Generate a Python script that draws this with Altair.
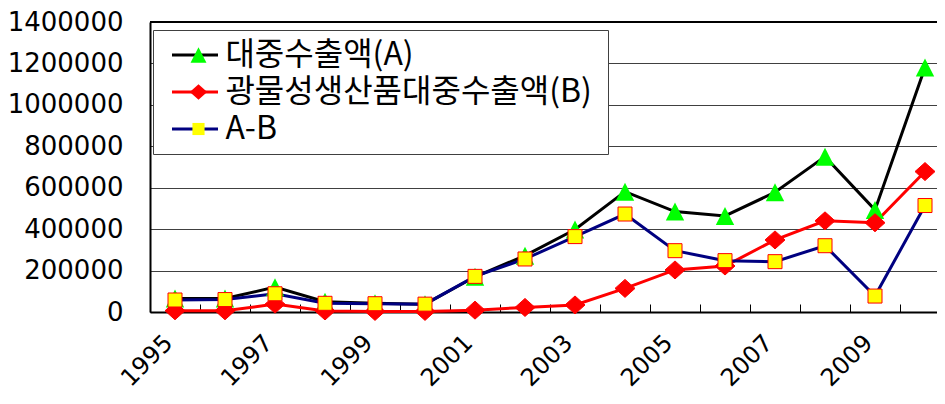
import altair as alt
import pandas as pd

# ---- data ----
years = [str(y) for y in range(1995, 2011)]
series_names = ["대중수출액(A)", "광물성생산품대중수출액(B)", "A-B"]
export_a = [65000, 65000, 120000, 50000, 42000, 38000, 170000, 272000,
            398000, 581000, 485000, 464000, 578000, 750000, 493000, 1180000]
export_b = [6000, 6000, 38000, 5000, 3000, 3000, 9000, 22000,
            34000, 114000, 203000, 222000, 348000, 440000, 431000, 678000]
diff_ab = [58000, 60000, 88000, 42000, 40000, 38000, 172000, 256000,
           364000, 473000, 296000, 248000, 243000, 320000, 77000, 514000]
y_ticks = [0, 200000, 400000, 600000, 800000, 1000000, 1200000, 1400000]

# ---- styles ----
line_colors = ["#000000", "#ff0000", "#000080"]
marker_fills = ["#00ff00", "#ff0000", "#ffff00"]
marker_shapes = [
    "M-0.92,0.9L0.92,0.9L0,-0.9Z",
    "M-1,0L0,-0.9L1,0L0,0.9Z",
    "M-0.7,-0.7H0.7V0.7H-0.7Z",
]
keys = [s + "#" for s in series_names]

rows = []
for name, key, vals in zip(series_names, keys, [export_a, export_b, diff_ab]):
    for yr, v in zip(years, vals):
        rows.append({"year": yr, "value": v, "series": name, "key": key})
df = pd.DataFrame(rows)

FONT = "DejaVu Sans"
KFONT = "Noto Sans CJK KR"

x_scale = alt.Scale(type="band", domain=years, paddingInner=0, paddingOuter=0,
                    range=[0, 800])
y_axis = alt.Axis(
    title=None, values=y_ticks, format="d", grid=True, gridColor="#404040",
    gridWidth=1, ticks=False, domainColor="black", domainWidth=2,
    labelFont=FONT, labelFontSize=26, labelColor="black", labelPadding=27,
)
y_scale = alt.Scale(domain=[0, 1400000], nice=False)
y_enc = alt.Y("value:Q", scale=y_scale, axis=y_axis)

stroke_legend = alt.Legend(
    orient="none", legendX=3, legendY=8, title=None, padding=9,
    symbolType="M-4.6,0H4.6", symbolSize=100, symbolStrokeWidth=3,
    symbolFillColor="transparent", symbolOffset=17, labelOffset=388,
    labelFont=KFONT, labelFontSize=32, labelOpacity=0, rowPadding=5,
    fillColor="white", strokeColor="#404040", labelLimit=1000,
    labelExpr="' '",
)
fill_legend = alt.Legend(
    orient="none", legendX=3, legendY=8, title=None, padding=9,
    symbolSize=300, symbolOffset=20.5, labelOffset=10.9,
    labelFont=KFONT, labelFontSize=32, labelColor="black", rowPadding=5,
    labelLimit=1000, symbolStrokeWidth=1, symbolStrokeColor="#ff0000",
)

base = alt.Chart(df)

top_border = base.mark_rule(color="black", strokeWidth=2).encode(
    y=alt.Y(datum=1400000, scale=y_scale, axis=y_axis)
)

lines = base.mark_line(strokeWidth=3).encode(
    x=alt.X(
        "year:O", scale=x_scale, sort=years,
        axis=alt.Axis(
            title=None, labelAngle=-45, labelAlign="right", labelBaseline="middle",
            labelExpr="toNumber(datum.value) % 2 == 1 ? datum.label : ''",
            ticks=False, domainColor="black", domainWidth=2, grid=False,
            labelFont=FONT, labelFontSize=24, labelColor="black",
            labelPadding=27, labelOffset=-6, labelOverlap=False,
        ),
    ),
    y=y_enc,
    stroke=alt.Stroke("key:N", scale=alt.Scale(domain=keys, range=line_colors),
                      legend=stroke_legend),
)

points = base.mark_point(filled=True, size=400, opacity=1).encode(
    x=alt.X(
        "year:O", scale=x_scale, sort=years,
        axis=alt.Axis(
            title=None, labels=False, domain=False, ticks=True, tickSize=8,
            tickColor="black", tickWidth=1, offset=-8, tickBand="extent",
            grid=False, orient="bottom",
        ),
    ),
    y=y_enc,
    fill=alt.Fill("series:N", scale=alt.Scale(domain=series_names, range=marker_fills),
                  legend=fill_legend),
    shape=alt.Shape("series:N", scale=alt.Scale(domain=series_names, range=marker_shapes),
                    legend=fill_legend),
    stroke=alt.condition("datum.series === '대중수출액(A)'", alt.value("transparent"),
                         alt.value("#ff0000")),
    strokeWidth=alt.value(1),
)

chart = (
    alt.layer(top_border, lines, points)
    .resolve_axis(x="independent")
    .properties(
        width=787, height=290,
        padding={"left": 142, "top": 14, "right": 0, "bottom": 84},
        autosize=alt.AutoSizeParams(type="none"),
        background="white",
    )
    .configure_view(stroke=None)
)

chart.save("out.html", embed_options={"renderer": "svg", "actions": False})
